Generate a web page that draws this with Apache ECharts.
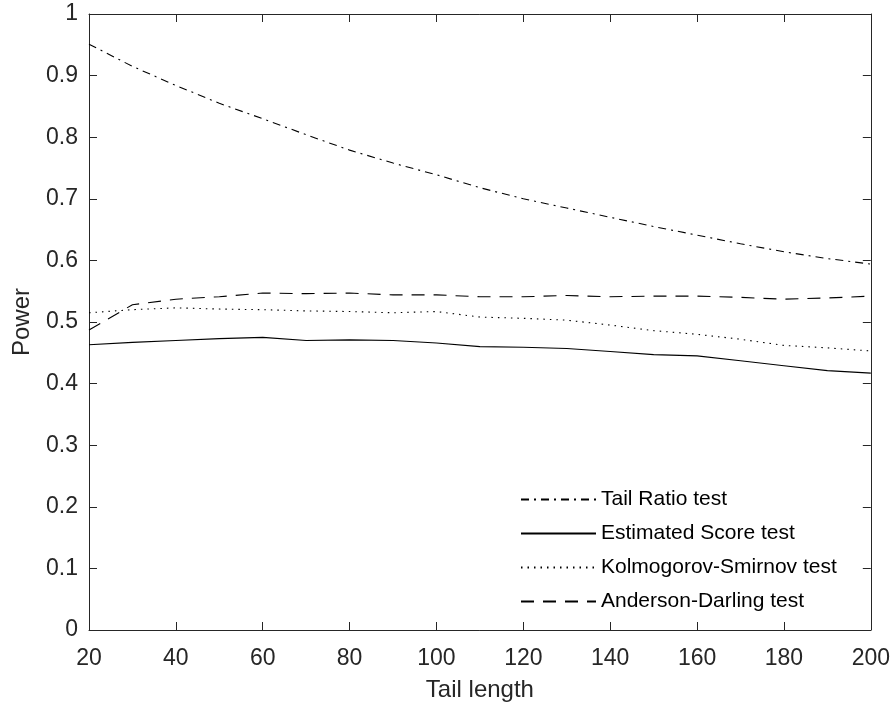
<!DOCTYPE html>
<html>
<head>
<meta charset="utf-8">
<script src="https://cdn.jsdelivr.net/npm/echarts@6/dist/echarts.min.js"></script>
<style>
html,body{margin:0;padding:0;background:#fff;}
#chart{width:893px;height:707px;}
</style>
</head>
<body>
<div id="chart"></div>
<script>
const tailLengths = [20,30,40,50,60,70,80,90,100,110,120,130,140,150,160,170,180,190,200];
const tailRatio = [0.951,0.915,0.884,0.855,0.830,0.804,0.779,0.758,0.739,0.718,0.700,0.685,0.670,0.655,0.641,0.627,0.614,0.603,0.594];
const estimatedScore = [0.463,0.467,0.470,0.473,0.475,0.470,0.471,0.470,0.466,0.460,0.459,0.457,0.452,0.447,0.445,0.437,0.429,0.421,0.417];
const ksTest = [0.515,0.520,0.523,0.521,0.520,0.518,0.517,0.515,0.517,0.508,0.506,0.503,0.495,0.486,0.480,0.472,0.462,0.458,0.453];
const adTest = [0.487,0.528,0.537,0.541,0.547,0.546,0.547,0.544,0.544,0.541,0.541,0.543,0.541,0.542,0.542,0.540,0.537,0.539,0.542];
const seriesNames = ['Tail Ratio test','Estimated Score test','Kolmogorov-Smirnov test','Anderson-Darling test'];

const FONT = '"Liberation Sans", Arial, Helvetica, sans-serif';
const AX = '#262626';
const pairs = a => tailLengths.map((x,i)=>[x,a[i]]);

const chart = echarts.init(document.getElementById('chart'), null, {renderer:'canvas'});
const axisCommon = {
  axisLine:{show:true, onZero:false, lineStyle:{color:AX, width:1}},
  axisTick:{show:true, inside:true, length:8, lineStyle:{color:AX, width:1}},
  splitLine:{show:false}
};
function mkSeries(name, data, type){
  return {name, type:'line', data:pairs(data), symbol:'none', showSymbol:false,
    lineStyle:{color:'#000', width:1.1, type:type}, itemStyle:{color:'#000'}, animation:false, z:3};
}
chart.setOption({
  animation:false,
  backgroundColor:'#fff',
  textStyle:{fontFamily:FONT},
  grid:{left:89, top:14, right:22, bottom:77, containLabel:false},
  xAxis:[
    Object.assign({type:'value', min:20, max:200, interval:20, position:'bottom',
      name:'Tail length', nameLocation:'middle', nameGap:48,
      nameTextStyle:{fontSize:24, color:AX, fontFamily:FONT},
      axisLabel:{fontSize:23, color:AX, margin:17, fontFamily:FONT}}, axisCommon),
    Object.assign({type:'value', min:20, max:200, interval:20, position:'top',
      axisLabel:{show:false}}, axisCommon)
  ],
  yAxis:[
    Object.assign({type:'value', min:0, max:1, interval:0.1, position:'left',
      name:'Power', nameLocation:'middle', nameGap:55,
      nameTextStyle:{fontSize:24, color:AX, fontFamily:FONT},
      axisLabel:{fontSize:23, color:AX, margin:11, fontFamily:FONT}}, axisCommon),
    Object.assign({type:'value', min:0, max:1, interval:0.1, position:'right',
      axisLabel:{show:false}}, axisCommon)
  ],
  legend:{
    orient:'vertical', left:515, top:484, itemWidth:75, itemHeight:14, itemGap:13,
    data:seriesNames,
    itemStyle:{opacity:0},
    textStyle:{fontSize:21, color:'#000', fontFamily:FONT}
  },
  series:[
    mkSeries(seriesNames[0], tailRatio, [8,5,2,5]),
    mkSeries(seriesNames[1], estimatedScore, 'solid'),
    mkSeries(seriesNames[2], ksTest, [1.5,5]),
    mkSeries(seriesNames[3], adTest, [13,9])
  ]
});
</script>
</body>
</html>
